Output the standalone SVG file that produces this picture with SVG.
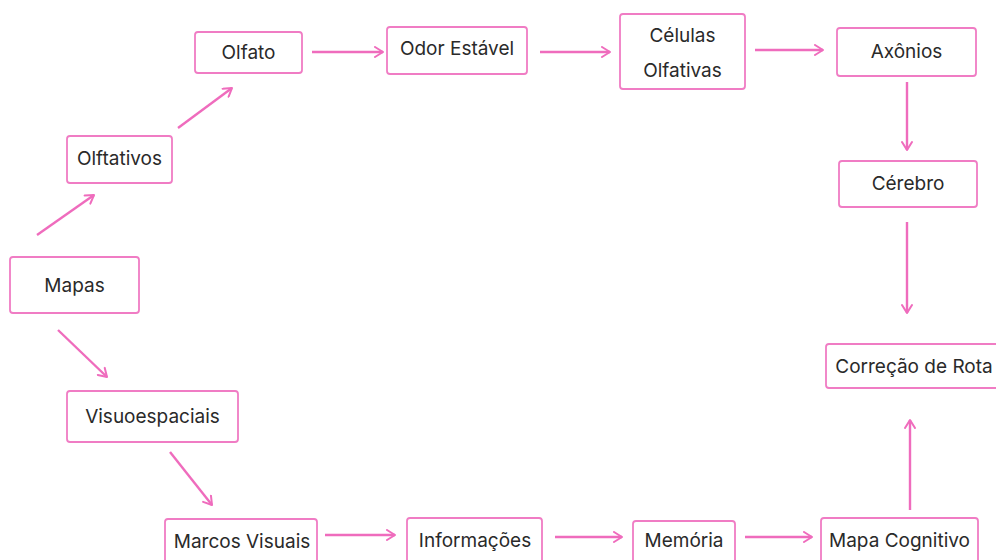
<svg xmlns="http://www.w3.org/2000/svg" width="996" height="560" viewBox="0 0 996 560">
  <defs>
    <style>
      .box { fill: #ffffff; stroke: #f07cc4; stroke-width: 1.8; }
      .lbl { font-family: Inter, "Liberation Sans", sans-serif; font-size: 19px; fill: #2a2a2a; text-anchor: middle; dominant-baseline: central; }
      .edge { stroke: #ef6cbd; stroke-width: 2.4; fill: none; marker-end: url(#chev); }
    </style>
    <marker id="chev" viewBox="0 0 12 12" refX="10" refY="6" markerWidth="5" markerHeight="5" orient="auto" markerUnits="strokeWidth">
      <path d="M2,1 L10,6 L2,11" fill="none" stroke="#ef6cbd" stroke-width="2" stroke-linecap="round" stroke-linejoin="round"/>
    </marker>
  </defs>
  <rect width="996" height="560" fill="#ffffff"/>

  <g id="edges">
    <line class="edge" x1="37" y1="235" x2="94" y2="195"/>
    <line class="edge" x1="178" y1="128" x2="232" y2="88"/>
    <line class="edge" x1="312" y1="52" x2="383" y2="52"/>
    <line class="edge" x1="540" y1="52" x2="610" y2="52"/>
    <line class="edge" x1="755" y1="50" x2="823" y2="50"/>
    <line class="edge" x1="907" y1="82" x2="907" y2="150"/>
    <line class="edge" x1="907" y1="222" x2="907" y2="313"/>
    <line class="edge" x1="910" y1="510" x2="910" y2="420"/>
    <line class="edge" x1="58" y1="330" x2="107" y2="377"/>
    <line class="edge" x1="170" y1="452" x2="212" y2="505"/>
    <line class="edge" x1="325" y1="535" x2="395" y2="535"/>
    <line class="edge" x1="555" y1="537" x2="622" y2="537"/>
    <line class="edge" x1="745" y1="537" x2="812" y2="537"/>
  </g>

  <g id="mapas">
    <rect class="box" x="10" y="257" width="129" height="56" rx="3"/>
    <text class="lbl" x="74.5" y="285">Mapas</text>
  </g>
  <g id="olftativos">
    <rect class="box" x="67" y="136" width="105" height="47" rx="3"/>
    <text class="lbl" x="119.5" y="158">Olftativos</text>
  </g>
  <g id="olfato">
    <rect class="box" x="195" y="32" width="107" height="41" rx="3"/>
    <text class="lbl" x="248.5" y="52">Olfato</text>
  </g>
  <g id="odor-estavel">
    <rect class="box" x="387" y="27" width="140" height="47" rx="3"/>
    <text class="lbl" x="457" y="48">Odor Estável</text>
  </g>
  <g id="celulas-olfativas">
    <rect class="box" x="620" y="14" width="125" height="75" rx="3"/>
    <text class="lbl" x="682.5" y="35">Células</text>
    <text class="lbl" x="682.5" y="70">Olfativas</text>
  </g>
  <g id="axonios">
    <rect class="box" x="837" y="28" width="139" height="48" rx="3"/>
    <text class="lbl" x="906.5" y="51">Axônios</text>
  </g>
  <g id="cerebro">
    <rect class="box" x="839" y="161" width="138" height="46" rx="3"/>
    <text class="lbl" x="908" y="183">Cérebro</text>
  </g>
  <g id="correcao-de-rota">
    <rect class="box" x="826" y="344" width="180" height="44" rx="3"/>
    <text class="lbl" x="914" y="366">Correção de Rota</text>
  </g>
  <g id="visuoespaciais">
    <rect class="box" x="67" y="391" width="171" height="51" rx="3"/>
    <text class="lbl" x="152.5" y="416">Visuoespaciais</text>
  </g>
  <g id="marcos-visuais">
    <rect class="box" x="165" y="519" width="152" height="50" rx="3"/>
    <text class="lbl" x="242" y="541">Marcos Visuais</text>
  </g>
  <g id="informacoes">
    <rect class="box" x="407" y="518" width="135" height="50" rx="3"/>
    <text class="lbl" x="475" y="540">Informações</text>
  </g>
  <g id="memoria">
    <rect class="box" x="633" y="521" width="102" height="46" rx="3"/>
    <text class="lbl" x="684" y="540">Memória</text>
  </g>
  <g id="mapa-cognitivo">
    <rect class="box" x="821" y="518" width="157" height="50" rx="3"/>
    <text class="lbl" x="899.5" y="540">Mapa Cognitivo</text>
  </g>
</svg>
